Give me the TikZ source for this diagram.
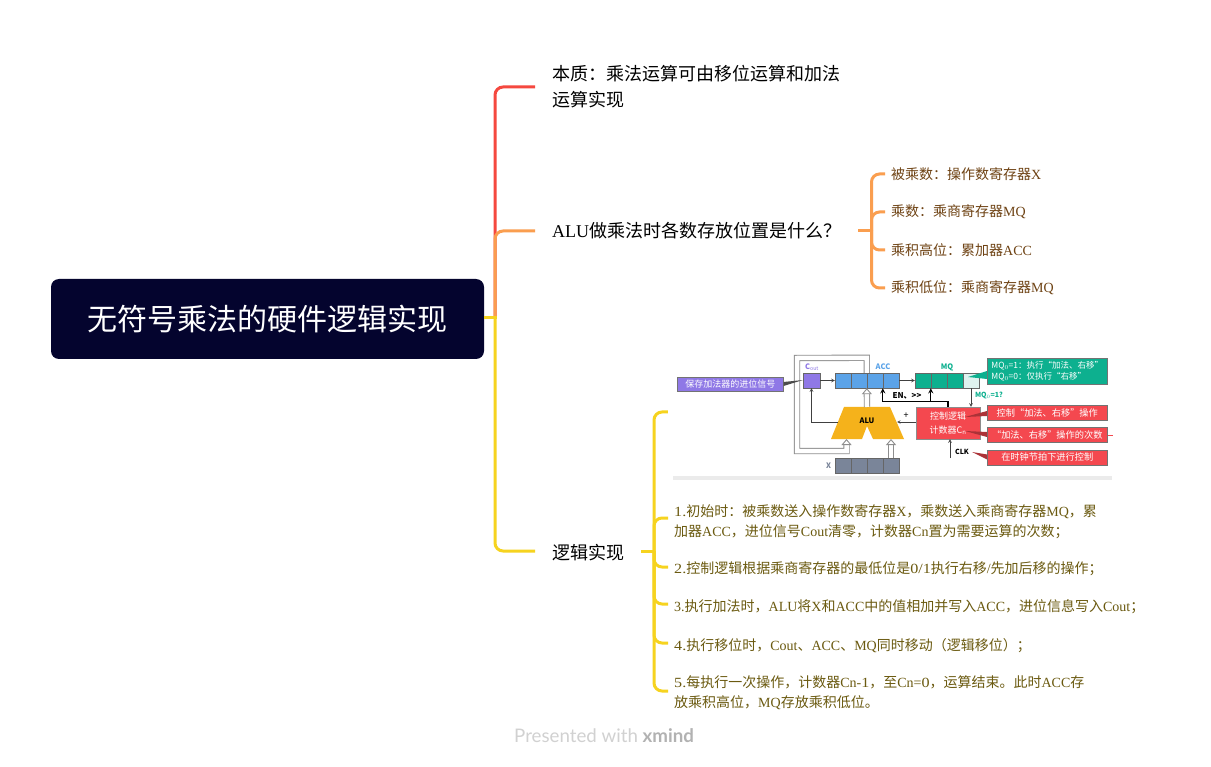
\documentclass[tikz,border=0pt]{standalone}
\usepackage{fontspec}
\setmainfont{Noto Sans CJK SC}
\newfontfamily\lat{Liberation Serif}
\newfontfamily\num[FakeStretch=1.15]{Liberation Serif}
\newfontfamily\wm{Lato}
\usetikzlibrary{arrows.meta}

\definecolor{rootnavy}{HTML}{04042E}
\definecolor{redline}{HTML}{F5483F}
\definecolor{orangeline}{HTML}{FA9E4F}
\definecolor{yellowline}{HTML}{F6D31F}
\definecolor{browntext}{HTML}{6E4213}
\definecolor{olivetext}{HTML}{6B5A10}
\definecolor{purplebox}{HTML}{8F78E6}
\definecolor{accblue}{HTML}{5BA3E8}
\definecolor{mqgreen}{HTML}{0DB08F}
\definecolor{mqpale}{HTML}{DFF2EF}
\definecolor{ctrlred}{HTML}{F4484F}
\definecolor{alugold}{HTML}{F5B21B}
\definecolor{xslate}{HTML}{7A8599}
\definecolor{loopgrey}{HTML}{8E8E8E}

\tikzset{
  branch/.style={line width=3pt,rounded corners=8pt},
  topic/.style={anchor=west,inner xsep=17pt,inner ysep=0pt,align=left,font=\fontsize{18}{26}\selectfont},
  subtopic/.style={anchor=west,inner xsep=6pt,inner ysep=0pt,align=left,text=browntext,font=\fontsize{14}{20}\selectfont},
  steptopic/.style={subtopic,text=olivetext},
  cell/.style={draw=black!60,line width=.4pt,minimum width=16pt,minimum height=15pt,inner sep=0pt},
  reglabel/.style={font=\bfseries\fontsize{7.5}{8}\selectfont,inner sep=0pt},
  tag/.style={anchor=west,text=white,draw=black!55,line width=.5pt,inner sep=0pt,minimum width=120pt,align=center,font=\fontsize{9.2}{13}\selectfont},
  thinwire/.style={draw=black!75,line width=.6pt,->,>=stealth},
  enwire/.style={draw=black,line width=1.3pt,->,>=stealth},
  hollow/.style={draw=loopgrey,line width=.9pt,double=white,double distance=4.5pt,
    -{Triangle[open,fill=white,length=6pt,width=10pt,line width=.9pt]}},
}

\begin{document}
\begin{tikzpicture}[x=1pt,y=-1pt]

  \path[use as bounding box,fill=white] (0,0) rectangle (1211,767);

  % ========== Root and topics ==========
  \node[fill=rootnavy,rounded corners=8pt,minimum width=433pt,minimum height=80pt,inner sep=0pt,
    text=white,font=\fontsize{30}{36}\selectfont] (root) at (267.5,319) {无符号乘法的硬件逻辑实现};
  \coordinate (trunk) at (495,318);

  \node[topic] (essence) at (535,87) {本质：乘法运算可由移位运算和加法\\运算实现};
  \node[topic] (store) at (535,231) {{\lat ALU}做乘法时各数存放位置是什么？};
  \node[topic,text width=72pt] (logic) at (535,553) {逻辑实现};

  \draw[branch,redline] (trunk) |- (essence.west);
  \draw[branch,orangeline] (trunk) |- (store.west);
  \draw[branch,yellowline] (trunk) |- ([yshift=2pt]logic.west);
  \draw[branch,yellowline] (root.east |- trunk) -- ([xshift=1.5pt]trunk);

  % ========== Where the numbers are kept ==========
  \coordinate (storefork) at (871.5,231);
  \node[subtopic] (store1) at (885,174) {被乘数：操作数寄存器{\lat X}};
  \node[subtopic] (store2) at (885,212) {乘数：乘商寄存器{\lat MQ}};
  \node[subtopic] (store3) at (885,250) {乘积高位：累加器{\lat ACC}};
  \node[subtopic] (store4) at (885,288) {乘积低位：乘商寄存器{\lat MQ}};
  \draw[branch,orangeline] (store.east) -- (storefork);
  \foreach \n in {1,2,3,4}
    \draw[branch,orangeline] (storefork) |- (store\n.west);

  % ========== Steps ==========
  \coordinate (logicfork) at (654,551);
  \node[inner sep=0pt,minimum width=444pt,minimum height=134pt] (inset) at (890,412) {};
  \node[steptopic] (step1) at (668,521.5) {{\num 1.}初始时：被乘数送入操作数寄存器{\lat X}，乘数送入乘商寄存器{\lat MQ}，累\\加器{\lat ACC}，进位信号{\lat Cout}清零，计数器{\lat Cn}置为需要运算的次数；};
  \node[steptopic] (step2) at (668,569) {{\num 2.}控制逻辑根据乘商寄存器的最低位是{\num 0/1}执行右移{\lat /}先加后移的操作；};
  \node[steptopic] (step3) at (668,607) {{\lat 3.}执行加法时，{\lat ALU}将{\lat X}和{\lat ACC}中的值相加并写入{\lat ACC}，进位信息写入{\lat Cout}；};
  \node[steptopic] (step4) at (668,645.5) {{\num 4.}执行移位时，{\lat Cout}、{\lat ACC}、{\lat MQ}同时移动（逻辑移位）；};
  \node[steptopic] (step5) at (668,693) {{\num 5.}每执行一次操作，计数器{\lat Cn-}{\num 1}，至{\lat Cn=}{\num 0}，运算结束。此时{\lat ACC}存\\放乘积高位，{\lat MQ}存放乘积低位。};
  \draw[branch,yellowline] ([yshift=2pt]logic.east) -- (logicfork);
  \draw[branch,yellowline] (logicfork) |- (inset.west);
  \foreach \n/\dy in {1/3.5,2/2,3/3,4/2.5,5/2}
    \draw[branch,yellowline] (logicfork) |- ([yshift=\dy pt]step\n.west);

  % ========== Inset: registers ==========
  \fill[black!8] (673,476) rectangle (1112,480);

  \node[cell,fill=purplebox,minimum width=17pt] (cout) at (811.5,380.5) {};
  \foreach \i in {1,2,3,4}
    \node[cell,fill=accblue] (acc\i) at (827+16*\i,380.5) {};
  \foreach \i in {1,2,3}
    \node[cell,fill=mqgreen] (mq\i) at (907+16*\i,380.5) {};
  \node[cell,fill=mqpale] (mq4) at (971,380.5) {};
  \foreach \i in {1,2,3,4}
    \node[cell,fill=xslate] (xreg\i) at (827+16*\i,465.5) {};

  \node[reglabel,text=purplebox] (coutlabel) at (812,367) {C$_{\mathrm{out}}$};
  \node[reglabel,text=accblue] (acclabel) at (883,367) {ACC};
  \node[reglabel,text=mqgreen] (mqlabel) at (947,367) {MQ};
  \node[reglabel,text=xslate] (xlabel) at (828.5,466) {X};

  % ========== Inset: ALU and control ==========
  \fill[alugold] (844,407) -- (890,407) -- (904,439) -- (873,439) -- (867,426) -- (862,439) -- (831,439) -- cycle;
  \node[font=\bfseries\fontsize{7.5}{8}\selectfont,inner sep=0pt] (alu) at (867,420.5) {ALU};
  \coordinate (alutop) at (867,407);
  \coordinate (aluleft) at (838,422);
  \coordinate (aluright) at (897,422);
  \coordinate (alubl) at (846.5,439);
  \coordinate (alubr) at (891,439);
  \coordinate (enbus) at (948,401.5);

  \node[draw=black!45,line width=.4pt,fill=ctrlred,text=white,minimum width=64pt,minimum height=32pt,inner sep=0pt,align=center,
    font=\fontsize{9}{14}\selectfont] (ctrl) at (948,423) {控制逻辑\\计数器C$_{\mathrm{n}}$};

  \draw[thinwire] (cout.east) -- (acc1.west);
  \draw[thinwire] (acc4.east) -- (mq1.west);
  \draw[thinwire] (aluleft) -| (cout.south);
  \draw[thinwire] (ctrl.west |- aluright) -- (aluright);
  \draw[thinwire] (mq4.south) -- (mq4.south |- ctrl.north);
  \draw[enwire] (ctrl.north) -- (enbus) -| (acc4.south west);
  \draw[enwire] (enbus) -| (mq2.south west);

  \draw[hollow] (acc3.north west) -- ++(0,-15) -- (797,358) -- (797,451) -- (alubl |- 0,451) -- (alubl);
  \draw[hollow] (alutop) -- (acc3.south west);
  \draw[hollow] (xreg4.north) -- (alubr);

  \node[font=\fontsize{9}{10}\selectfont,inner sep=0pt] (plus) at (906,416) {+};
  \node[font=\bfseries\fontsize{8}{9}\selectfont,inner sep=0pt] (enlabel) at (907,396) {EN、>{}>};
  \node[font=\bfseries\fontsize{7}{8}\selectfont,text=mqgreen,inner sep=0pt] (mqtest) at (989,396) {MQ$_0$=1?};

  % ========== Inset: tags ==========
  \node[tag,fill=purplebox,minimum width=106pt,minimum height=14pt,font=\fontsize{9}{11}\selectfont] (carrytag) at (677,384) {保存加法器的进位信号};
  \node[tag,fill=mqgreen,minimum height=26pt,align=left,font=\fontsize{8.5}{11.5}\selectfont] (mqtag) at (987,371) {MQ$_0$=1：执行“加法、右移”\\MQ$_0$=0：仅执行“右移”};
  \node[tag,fill=ctrlred,minimum height=14.5pt] (ctrltag) at (987,413) {控制“加法、右移”操作};
  \node[tag,fill=ctrlred,minimum height=14.5pt] (counttag) at (987,435) {“加法、右移”操作的次数};
  \node[tag,fill=ctrlred,minimum height=14.5pt] (clktag) at (987,457.5) {在时钟节拍下进行控制};
  \draw[ctrlred,line width=.4pt] (counttag.east) -- ++(5,0);

  \coordinate (carrytip) at (803,380);
  \coordinate (mqtip) at (968,377);
  \coordinate (ctrltip) at (965,417);
  \coordinate (counttip) at (965,431);
  \coordinate (clktip) at (972,452);
  \fill[black!70] (carrytip) -- ([yshift=2pt]carrytag.east) -- ([yshift=-2pt]carrytag.east) -- cycle;
  \fill[mqgreen] (mqtip) -- ([yshift=0pt]mqtag.west) -- ([yshift=-8pt]mqtag.west) -- cycle;
  \fill[ctrlred!70!black] (ctrltip) -- ([yshift=2pt]ctrltag.west) -- ([yshift=-3pt]ctrltag.west) -- cycle;
  \fill[ctrlred!70!black] (counttip) -- ([yshift=3pt]counttag.west) -- ([yshift=-2pt]counttag.west) -- cycle;
  \fill[ctrlred!70!black] (clktip) -- ([yshift=3pt]clktag.west) -- ([yshift=-2pt]clktag.west) -- cycle;

  % ========== CLK ==========
  \node[font=\bfseries\fontsize{7}{8}\selectfont,inner sep=0pt] (clk) at (962,452) {CLK};
  \coordinate (clkfoot) at (950,458);
  \draw[thinwire] (clkfoot) -- (clkfoot |- ctrl.south);

  % ========== Footer ==========
  \node[text=black!18,inner sep=0pt,anchor=west,font=\wm\fontsize{18.7}{22}\selectfont] (footer) at (514,736) {Presented with {\bfseries\color{black!30}xmind}};

\end{tikzpicture}
\end{document}
